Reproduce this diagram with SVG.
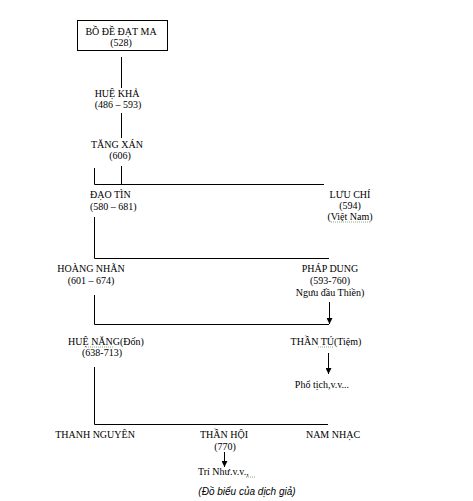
<svg xmlns="http://www.w3.org/2000/svg" width="473" height="501" viewBox="0 0 473 501">
<defs>
<marker id="ah" markerWidth="6" markerHeight="6" refX="6" refY="3" orient="auto" markerUnits="userSpaceOnUse" viewBox="0 0 6 6">
<path d="M0,0 L6,3 L0,6 Z" fill="#000"/>
</marker>
<style>
text{font-family:"Liberation Serif","Times New Roman",serif;font-size:10px;fill:#000;text-anchor:middle}
.cap{font-family:"Liberation Sans",Arial,sans-serif;font-style:italic;font-size:10px}
.ln{stroke:#000;stroke-width:1;fill:none}
.sq{stroke:#6a9a5a;stroke-width:0.8;fill:none;stroke-dasharray:1 1}
</style>
</defs>
<rect width="473" height="501" fill="#fff"/>
<g id="connectors">
<path class="ln" d="M121.5,57 V88 M121.5,113 V138 M121.5,166 V184"/>
<path class="ln" d="M94.5,168 V184.5 H324"/>
<path class="ln" d="M94.5,217 V258.5 H329"/>
<path class="ln" d="M94.5,295 V324.5 H329"/>
<path class="ln" d="M94.5,367 V424.5 H328"/>
<path class="ln" d="M329.5,302 V324" marker-end="url(#ah)"/>
<path class="ln" d="M328.5,353 V374" marker-end="url(#ah)"/>
<path class="ln" d="M224.5,452 V467" marker-end="url(#ah)"/>
</g>
<g id="bode">
<rect x="77.5" y="20.5" width="90" height="30" fill="#fff" stroke="#000"/>
<text x="121" y="35">BỒ ĐỀ ĐẠT MA</text>
<text x="121" y="46">(528)</text>
</g>
<g id="huekha">
<text x="117" y="97">HUỆ KHẢ</text>
<text x="118" y="108">(486 – 593)</text>
</g>
<g id="tangxan">
<text x="117" y="148">TĂNG XÁN</text>
<text x="120" y="159">(606)</text>
</g>
<g id="daotin">
<text x="90" y="198" style="text-anchor:start">ĐẠO TÌN</text>
<text x="90" y="210" style="text-anchor:start">(580 – 681)</text>
</g>
<g id="luuchi">
<text x="350" y="198">LƯU CHÍ</text>
<text x="350" y="209">(594)</text>
<text x="350" y="220">(Việt Nam)</text>
<path class="sq" d="M331,222 H370"/>
</g>
<g id="hoangnhan">
<text x="91" y="272">HOÀNG NHÃN</text>
<text x="91" y="284">(601 – 674)</text>
</g>
<g id="phapdung">
<text x="330" y="272">PHÁP DUNG</text>
<text x="330" y="284">(593-760)</text>
<text x="330" y="296">Ngưu đầu Thiền)</text>
</g>
<g id="huenang">
<text x="106" y="345">HUỆ NĂNG(Đốn)</text>
<text x="102" y="356">(638-713)</text>
<path class="sq" d="M86,347 H114"/>
</g>
<g id="thantu">
<text x="326" y="345">THẦN TÚ(Tiệm)</text>
<path class="sq" d="M318,347 H333"/>
</g>
<g id="photich">
<text x="322" y="388">Phổ tịch,v.v...</text>
</g>
<g id="thanhnguyen">
<text x="95" y="438">THANH NGUYÊN</text>
</g>
<g id="thanhoi">
<text x="224" y="438">THẦN HỘI</text>
<text x="225" y="450">(770)</text>
</g>
<g id="trinhu">
<text x="198" y="475" style="text-anchor:start">Trí Như.v.v.,</text>
<path class="sq" d="M246,477 H256"/>
</g>
<g id="namnhac">
<text x="333" y="438">NAM NHẠC</text>
</g>
<g id="caption">
<text class="cap" x="247" y="495">(Đồ biểu của dịch giả)</text>
</g>
</svg>
